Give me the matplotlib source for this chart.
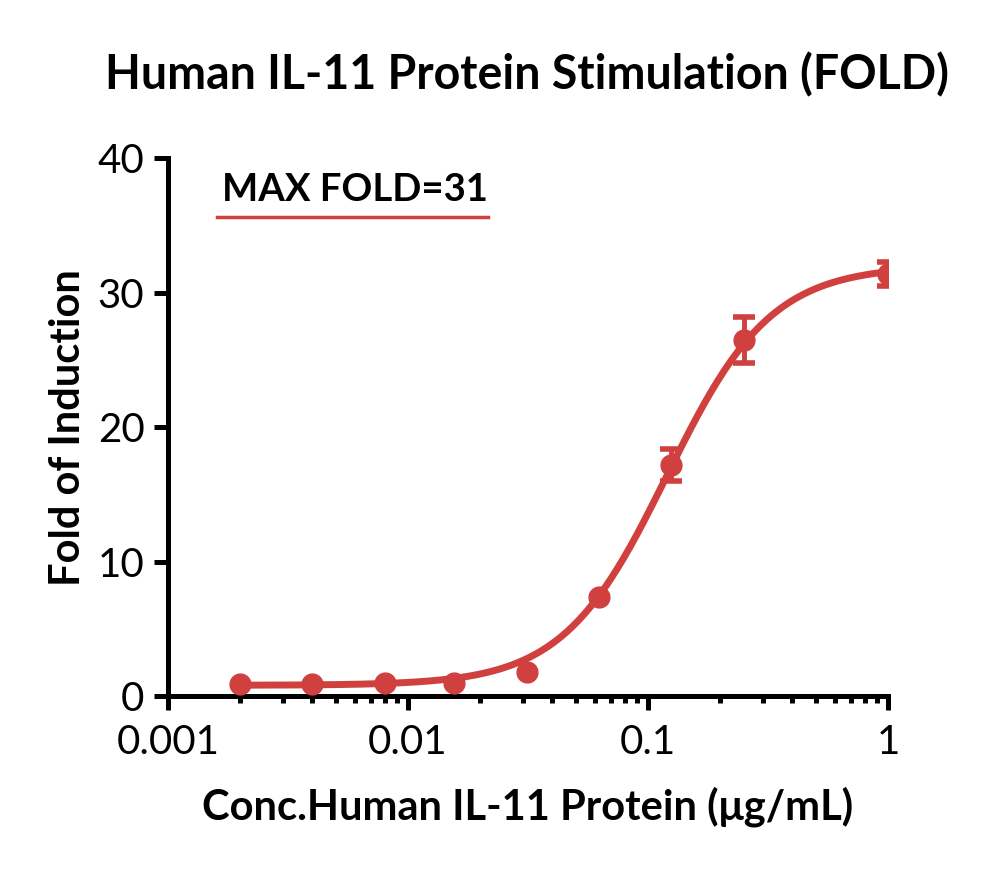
import numpy as np
import matplotlib.pyplot as plt
from matplotlib.ticker import LogLocator, NullFormatter

# ---- data ----
conc = [0.002, 0.004, 0.008, 0.0156, 0.03125, 0.0625, 0.125, 0.25, 1.0]
fold = [0.9, 0.9, 1.0, 1.0, 1.8, 7.4, 17.2, 26.5, 31.4]
fold_err = [0.0, 0.0, 0.0, 0.0, 0.0, 0.0, 1.2, 1.7, 0.9]

# 4PL fit parameters (bottom, top, EC50, hill)
fit_bottom = 0.8
fit_top = 32.0
fit_ec50 = 0.12
fit_hill = 2.0

red = "#D0403F"
plt.rcParams['font.family'] = ['Lato', 'DejaVu Sans']

fig = plt.figure(figsize=(10, 8.69), dpi=100)
ax = fig.add_axes([0.168, 0.199, 0.72, 0.619])

xs = np.logspace(np.log10(conc[0]), np.log10(conc[-1]), 300)
ys = fit_bottom + (fit_top - fit_bottom) / (1 + (fit_ec50 / xs) ** fit_hill)
ax.plot(xs, ys, color=red, lw=5, solid_capstyle='round', zorder=2)

ax.plot(conc, fold, 'o', color=red, ms=15, zorder=3)
# error bars only where the chart shows them
err_x = [c for c, e in zip(conc, fold_err) if e > 0]
err_y = [f for f, e in zip(fold, fold_err) if e > 0]
err_v = [e for e in fold_err if e > 0]
ax.errorbar(err_x, err_y, yerr=err_v, fmt='none', ecolor=red,
            elinewidth=3.5, capsize=8, capthick=4, zorder=3)

ax.set_xscale('log')
ax.set_xlim(0.001, 1)
ax.set_ylim(0, 40)
ax.set_yticks([0, 10, 20, 30, 40])
ax.set_xticks([0.001, 0.01, 0.1, 1])
ax.set_xticklabels(['0.001', '0.01', '0.1', '1'])
ax.xaxis.set_minor_locator(LogLocator(base=10, subs=np.arange(2, 10)))
ax.xaxis.set_minor_formatter(NullFormatter())

for s in ['top', 'right']:
    ax.spines[s].set_visible(False)
for s in ['left', 'bottom']:
    ax.spines[s].set_linewidth(3.6)
ax.tick_params(axis='both', which='major', width=3.6, length=10, labelsize=29, pad=7)
ax.tick_params(axis='x', which='major', pad=10)
ax.tick_params(axis='x', which='minor', width=3.6, length=5)

ax.set_xlabel('Conc.Human IL-11 Protein (μg/mL)', fontsize=30, fontweight='bold', labelpad=18)
ax.set_ylabel('Fold of Induction', fontsize=30, fontweight='bold')
ax.yaxis.set_label_coords(-0.113, 0.5)
fig.text(0.527, 0.914, 'Human IL-11 Protein Stimulation (FOLD)', fontsize=33.5,
         fontweight='bold', ha='center', va='center')

ax.text(0.00168, 37.6, 'MAX FOLD=31', fontsize=27.5, fontweight='bold', va='center', ha='left')
ax.plot([0.0016, 0.0215], [35.6, 35.6], color=red, lw=2.5)

fig.savefig('out.png', dpi=100)
